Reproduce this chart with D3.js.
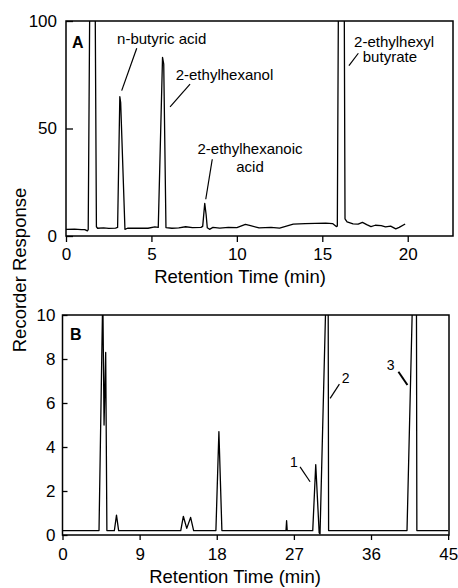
<!DOCTYPE html>
<html>
<head>
<meta charset="utf-8">
<script src="https://cdn.jsdelivr.net/npm/d3@7"></script>
<style>
body { margin: 0; background: #fff; }
svg { font-family: "Liberation Sans", Arial, sans-serif; }
.trace { fill: none; stroke: #000; stroke-width: 1.3; stroke-linejoin: round; }
.frame { fill: none; stroke: #000; stroke-width: 1.5; }
.axis text { font-size: 17px; fill: #000; }
.axis line { stroke: #000; stroke-width: 1.3; }
.axis path { display: none; }
.note { font-size: 15px; fill: #000; }
.lead { stroke: #000; stroke-width: 1.2; }
.title { font-size: 18.5px; fill: #000; }
</style>
</head>
<body>
<script>
// chromatogram A (retention time in min, recorder response)
var timeA = [0, 0.5, 0.9, 1.1, 1.25, 1.3, 1.4, 1.7, 1.78, 1.85, 2.2, 2.5, 2.9, 3.02, 3.15, 3.2, 3.45, 3.6,
  4.2, 4.8, 5.2, 5.4, 5.65, 5.72, 5.85, 6.2, 6.6, 7.0, 7.4, 7.9, 8.0, 8.12, 8.2, 8.27, 8.4, 8.6, 9.0,
  9.5, 10.0, 10.5, 10.8, 11.3, 12.0, 12.5, 12.9, 13.3, 14.0, 14.6, 15.2, 15.6, 15.82, 15.88, 15.95,
  16.28, 16.33, 16.45, 16.8, 17.1, 17.35, 17.6, 17.85, 18.1, 18.45, 18.7, 19.0, 19.3, 19.5, 19.85];
var respA = [3.1, 3.2, 3.0, 3.0, 2.4, 3.0, 120, 120, 4.3, 3.6, 3.8, 3.5, 3.7, 4.0, 64.8, 62, 3.1, 3.6,
  3.7, 3.6, 4.2, 4.0, 83.1, 80, 3.9, 3.6, 3.8, 4.3, 3.9, 4.0, 4.5, 15.2, 10, 3.8, 3.1, 4.0, 3.7,
  4.0, 3.9, 5.4, 4.8, 3.8, 4.0, 3.7, 4.6, 5.5, 5.8, 5.9, 6.0, 5.8, 4.4, 4.6, 120,
  120, 8, 6.6, 5.6, 5.5, 6.3, 5.3, 4.4, 5.0, 4.8, 4.2, 4.6, 3.3, 4.0, 5.6];
var xTicksA = [0, 5, 10, 15, 20];
var yTicksA = [0, 50, 100];

// chromatogram B
var timeB = [0, 4.26, 4.7, 4.85, 5.04, 5.18, 6.05, 6.3, 6.55, 13.8, 14.1, 14.5, 14.95, 15.3,
  17.9, 18.25, 18.6, 26.08, 26.15, 26.22, 29.2, 29.55, 29.95, 30.05, 30.75, 31.0, 31.05,
  40.2, 40.86, 41.3, 41.35, 45];
var respB = [0.2, 0.2, 11, 5.0, 8.3, 0.2, 0.2, 0.9, 0.2, 0.2, 0.85, 0.3, 0.8, 0.2,
  0.2, 4.7, 0.2, 0.2, 0.65, 0.2, 0.2, 3.2, 0.1, 0.05, 11, 11, 0.2,
  0.2, 11, 11, 0.2, 0.2];
var xTicksB = [0, 9, 18, 27, 36, 45];
var yTicksB = [0, 2, 4, 6, 8, 10];

var svg = d3.select("body").append("svg")
  .attr("width", 458)
  .attr("height", 588);

function panel(o) {
  var x = d3.scaleLinear().domain(o.xDomain).range([o.left, o.right]);
  var y = d3.scaleLinear().domain(o.yDomain).range([o.bottom, o.top]);
  var g = svg.append("g");

  g.append("clipPath").attr("id", o.id + "clip")
    .append("rect")
    .attr("x", o.left).attr("y", o.top)
    .attr("width", o.right - o.left).attr("height", o.bottom - o.top);

  var pts = o.time.map(function(t, i) { return [t, o.resp[i]]; });
  g.append("path")
    .datum(pts)
    .attr("class", "trace")
    .attr("clip-path", "url(#" + o.id + "clip)")
    .attr("d", d3.line().x(function(d) { return x(d[0]); }).y(function(d) { return y(d[1]); }));

  g.append("rect").attr("class", "frame")
    .attr("x", o.left).attr("y", o.top)
    .attr("width", o.right - o.left).attr("height", o.bottom - o.top);

  g.append("g").attr("class", "axis")
    .attr("transform", "translate(0," + o.bottom + ")")
    .call(d3.axisBottom(x).tickValues(o.xTicks).tickSize(o.xTickSize).tickPadding(o.xPad));

  g.append("g").attr("class", "axis")
    .attr("transform", "translate(" + o.left + ",0)")
    .call(d3.axisLeft(y).tickValues(o.yTicks).tickSize(-o.yTickSize).tickPadding(o.yPad));

  g.append("text").attr("class", "title")
    .attr("x", o.titleX).attr("y", o.titleY)
    .attr("text-anchor", "middle")
    .text("Retention Time (min)");

  g.append("text")
    .attr("x", x(o.tag[0])).attr("y", y(o.tag[1]))
    .style("font-size", "16px").style("font-weight", "bold")
    .text(o.tag[2]);

  o.notes.forEach(function(n) {
    g.append("text").attr("class", "note")
      .attr("x", x(n[0])).attr("y", y(n[1]))
      .attr("text-anchor", n[3] || "start")
      .style("font-size", n[4] || null)
      .text(n[2]);
  });
  o.leads.forEach(function(l) {
    g.append("line").attr("class", "lead")
      .attr("x1", x(l[0])).attr("y1", y(l[1]))
      .attr("x2", x(l[2])).attr("y2", y(l[3]))
      .style("stroke-width", l[4] || null);
  });
}

panel({
  id: "a", left: 66, right: 453, top: 21, bottom: 236,
  xDomain: [0, 22.65], yDomain: [0, 100],
  time: timeA, resp: respA, xTicks: xTicksA, yTicks: yTicksA,
  xTickSize: 6, xPad: 6, yTickSize: 7, yPad: 9,
  titleX: 240, titleY: 283,
  tag: [0.35, 87.4, "A"],
  notes: [
    [2.99, 89.3, "n-butyric acid"],
    [6.42, 72.6, "2-ethylhexanol"],
    [10.77, 38.1, "2-ethylhexanoic", "middle"],
    [10.77, 29.8, "acid", "middle"],
    [16.86, 88.0, "2-ethylhexyl"],
    [17.37, 80.8, "butyrate"]
  ],
  leads: [
    [4.14, 87.3, 3.26, 67.6],
    [7.26, 70.6, 6.09, 60.1],
    [8.56, 35.7, 8.18, 17.1],
    [17.11, 85.0, 16.56, 79.2]
  ]
});

panel({
  id: "b", left: 62.5, right: 449, top: 315, bottom: 535,
  xDomain: [0, 45.1], yDomain: [0, 10],
  time: timeB, resp: respB, xTicks: xTicksB, yTicks: yTicksB,
  xTickSize: 5, xPad: 8, yTickSize: 5, yPad: 7,
  titleX: 235, titleY: 583,
  tag: [0.88, 8.86, "B"],
  notes: [
    [26.56, 3.09, "1", "start", "14px"],
    [32.59, 6.9, "2", "start", "14px"],
    [37.84, 7.5, "3", "start", "14px"]
  ],
  leads: [
    [27.72, 3.1, 28.89, 2.42],
    [32.31, 6.86, 31.23, 6.21],
    [39.2, 7.42, 40.25, 6.82, 2]
  ]
});

svg.append("text").attr("class", "title")
  .attr("transform", "translate(26,270) rotate(-90)")
  .attr("text-anchor", "middle")
  .text("Recorder Response");
</script>
</body>
</html>
